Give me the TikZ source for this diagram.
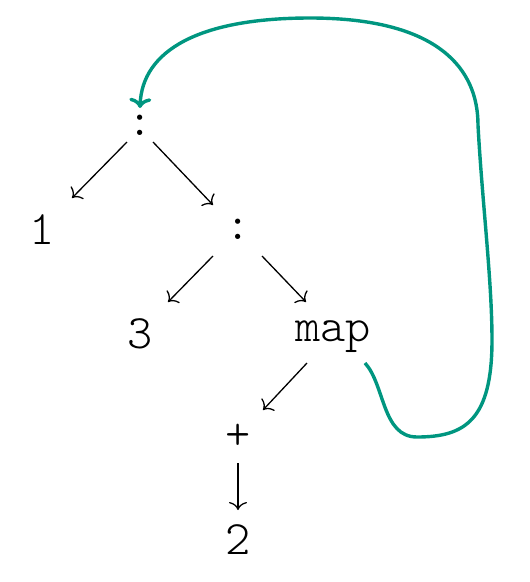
\documentclass[tikz,border=0pt]{standalone}
\usepackage{fontspec}
\newfontfamily\lblfont{Latin Modern Mono Light}
\usetikzlibrary{arrows.meta,calc}
\definecolor{loopgreen}{RGB}{0,150,128}
\begin{document}
\begin{tikzpicture}[x=1pt,y=-1pt,
  lbl/.style={inner sep=0pt,anchor=base,font=\lblfont\fontsize{48}{52}\selectfont},
  edge/.style={line width=1.3pt,-{Computer Modern Rightarrow[length=8pt,width=18pt]}},
  loop/.style={line width=3.4pt,draw=loopgreen,-{Computer Modern Rightarrow[length=10pt,width=22pt]}}]
\useasboundingbox (0,0) rectangle (530,582);
\node[lbl] (top) at (140,135) {:};
\node[lbl] (one) at (42,244) {1};
\node[lbl] (c2) at (238,239) {:};
\node[lbl] (three) at (140,348) {3};
\node[lbl] (map) at (333,341) {map};
\node[lbl] (plus) at (238,449) {+};
\node[lbl] (two) at (238,554) {2};
\draw[edge] ($(top.base)+(-13,7)$) -- ($(one.base)+(30,-46)$);
\draw[edge] ($(top.base)+(13,7)$) -- ($(c2.base)+(-25,-34)$);
\draw[edge] ($(c2.base)+(-25,17)$) -- ($(three.base)+(28,-46)$);
\draw[edge] ($(c2.base)+(24,17)$) -- ($(map.base)+(-27,-39)$);
\draw[edge] ($(map.base)+(-26,22)$) -- ($(plus.base)+(25,-39)$);
\draw[edge] ($(plus.base)+(0,14)$) -- ($(two.base)+(0,-44)$);
\draw[loop] ($(map.base)+(32,22)$)
  .. controls (385,385) and (382,437) .. (417,437)
  .. controls (465,437) and (492,420) .. (492,340)
  .. controls (492,280) and (482,200) .. (478,125)
  .. controls (478,70) and (440,18) .. (310,18)
  .. controls (200,18) and (142,50) .. ($(top.base)+(0,-27)$);
\end{tikzpicture}
\end{document}
